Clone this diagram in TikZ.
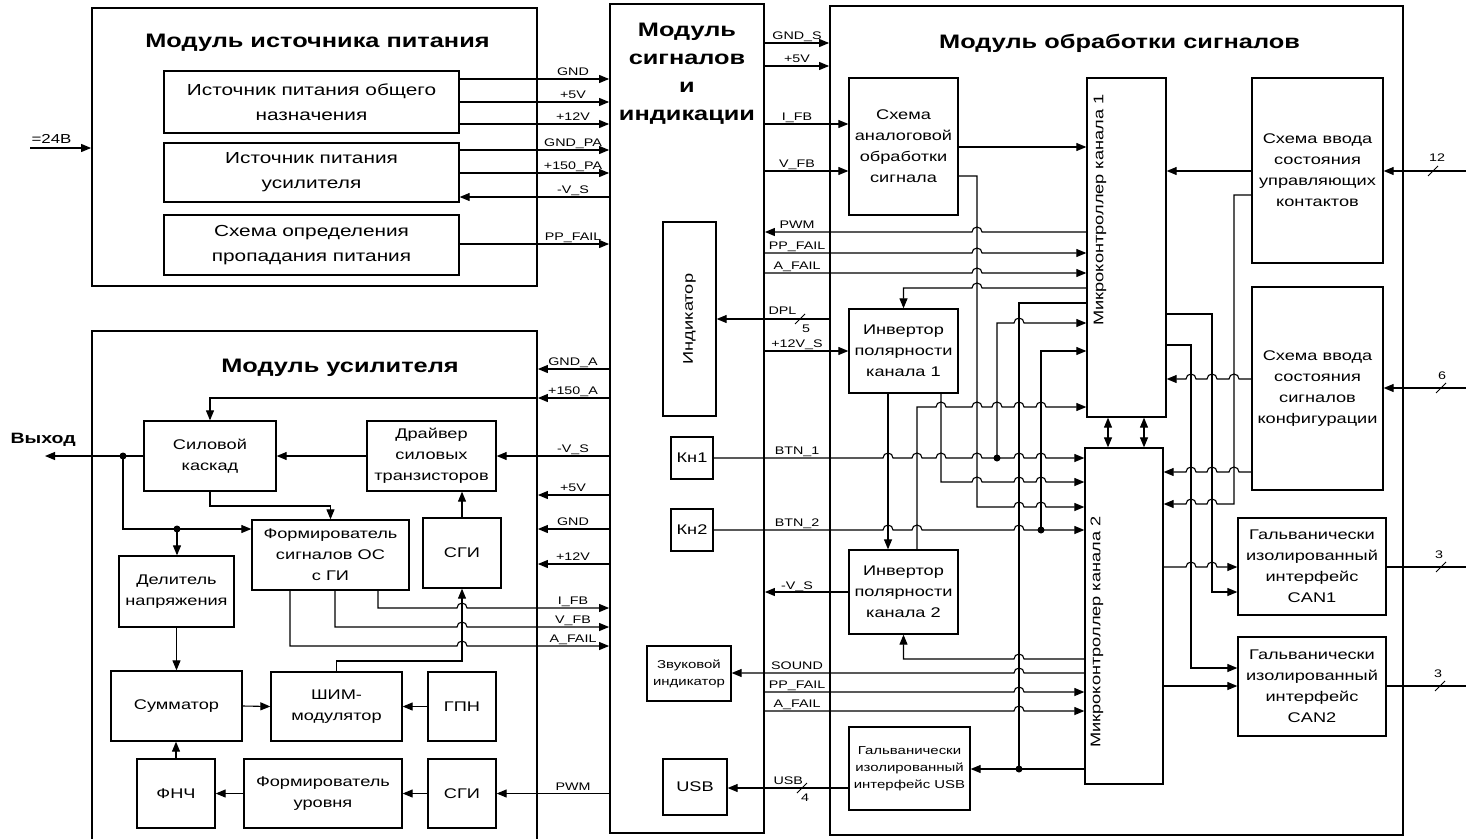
\documentclass[tikz,border=0pt]{standalone}
\usepackage{fontspec}
\setmainfont{Liberation Sans}[FakeStretch=1.3]
\usetikzlibrary{arrows.meta}
% перескок линии через вертикальный провод
\newcommand{\hopR}[2]{-- (#1-5,#2) arc[start angle=180,end angle=0,radius=5pt]}
\newcommand{\hopL}[2]{-- (#1+5,#2) arc[start angle=0,end angle=180,radius=5pt]}

\begin{document}
\begin{tikzpicture}[x=1pt,y=-1pt,>={Triangle[length=10pt,width=8pt]},line width=1.1pt,
  sz/.style 2 args={minimum width=#1pt,minimum height=#2pt}]
\tikzstyle{modbox}=[draw,line width=1.8pt,inner sep=0pt]
\tikzstyle{blk}=[draw,line width=1.3pt,align=center,inner sep=0pt,font=\fontsize{14}{21}\selectfont]
\tikzstyle{big}=[font=\fontsize{16}{25}\selectfont]
\tikzstyle{small}=[font=\fontsize{11.5}{17}\selectfont]
\tikzstyle{ttl}=[align=center,inner sep=0pt,font=\fontsize{19.5}{28}\selectfont\bfseries]
\tikzstyle{lbl}=[anchor=base,inner sep=0pt,font=\fontsize{11}{12}\selectfont]
\tikzstyle{dot}=[circle,fill,inner sep=0pt,minimum size=7pt]
\useasboundingbox (0,0) rectangle (1466,838);
\fill[white] (0,0) rectangle (1466,838);

% модуль источника питания
\node[modbox,sz={445}{278}] (pwr) at (314.5,147) {};
\node[ttl] (pwrT) at (317.5,43) {Модуль источника питания};
\node[blk,big,sz={295}{62}] (psA) at (311.5,102) {Источник питания общего\\назначения};
\node[blk,big,sz={295}{59}] (psB) at (311.5,172.5) {Источник питания\\усилителя};
\node[blk,big,sz={295}{60}] (psC) at (311.5,245) {Схема определения\\пропадания питания};

% модуль усилителя
\node[modbox,sz={445}{515}] (amp) at (314.5,588.5) {};
\node[ttl] (ampT) at (340,368) {Модуль усилителя};
\node[blk,sz={132}{70}] (sk) at (210,456) {Силовой\\каскад};
\node[blk,sz={129}{70}] (drv) at (431.5,456) {Драйвер\\силовых\\транзисторов};
\node[blk,sz={78}{70}] (sgiA) at (462,553) {СГИ};
\node[blk,sz={157}{70}] (fos) at (330.5,555) {Формирователь\\сигналов ОС\\с ГИ};
\node[blk,sz={115}{71}] (del) at (176.5,591.5) {Делитель\\напряжения};
\node[blk,sz={131}{70}] (sum) at (176.5,706) {Сумматор};
\node[blk,sz={131}{69}] (shim) at (336.5,706.5) {ШИМ-\\модулятор};
\node[blk,sz={68}{69}] (gpn) at (462,706.5) {ГПН};
\node[blk,sz={78}{69}] (fnch) at (176,793.5) {ФНЧ};
\node[blk,sz={158}{69}] (fur) at (323,793.5) {Формирователь\\уровня};
\node[blk,sz={68}{69}] (sgiB) at (462,793.5) {СГИ};

% модуль сигналов и индикации
\node[modbox,sz={154}{829}] (mid) at (687,418.5) {};
\node[ttl] (midT) at (687,74) {Модуль\\сигналов\\и\\индикации};
\node[blk,sz={53}{194}] (ind) at (689.5,319) {\rotatebox{90}{Индикатор}};
\node[blk,sz={42}{42}] (kn1) at (692,458) {Кн1};
\node[blk,sz={42}{42}] (kn2) at (692,530) {Кн2};
\node[blk,small,sz={84}{55}] (zvuk) at (689,673.5) {Звуковой\\индикатор};
\node[blk,sz={64}{56}] (usb) at (695,787) {USB};

% модуль обработки сигналов
\node[modbox,sz={573}{829}] (proc) at (1116.5,420.5) {};
\node[ttl] (procT) at (1119.5,43) {Модуль обработки сигналов};
\node[blk,sz={109}{137}] (ana) at (903.5,146.5) {Схема\\аналоговой\\обработки\\сигнала};
\node[blk,sz={109}{84}] (inv1) at (903.5,351) {Инвертор\\полярности\\канала 1};
\node[blk,sz={109}{84}] (inv2) at (903.5,592) {Инвертор\\полярности\\канала 2};
\node[blk,small,sz={121}{83}] (gusb) at (909.5,768.5) {Гальванически\\изолированный\\интерфейс USB};
\node[blk,sz={79}{339}] (mcA) at (1126.5,247.5) {};
\node[rotate=90,inner sep=0pt,font=\fontsize{14}{16}\selectfont] (mcAt) at (1100,210) {Микроконтроллер канала 1};
\node[blk,sz={78}{336}] (mcB) at (1124,616) {};
\node[rotate=90,inner sep=0pt,font=\fontsize{14}{16}\selectfont] (mcBt) at (1097,632) {Микроконтроллер канала 2};
\node[blk,sz={131}{185}] (kont) at (1317.5,170.5) {Схема ввода\\состояния\\управляющих\\контактов};
\node[blk,sz={131}{203}] (konf) at (1317.5,388.5) {Схема ввода\\состояния\\сигналов\\конфигурации};
\node[blk,sz={148}{97}] (can1) at (1312,566.5) {Гальванически\\изолированный\\интерфейс\\CAN1};
\node[blk,sz={148}{99}] (can2) at (1312,686.5) {Гальванически\\изолированный\\интерфейс\\CAN2};

% точки соединения
\node[dot] (d1) at (123,456) {};
\node[dot] (d2) at (177,529) {};
\node[dot] (d3) at (997,458) {};
\node[dot] (d4) at (1019,769) {};
\node[dot] (d5) at (1041,530) {};

% подписи шин
\foreach \y/\t in {79/GND,102/+5V,124/+12V,150/GND\_PA,173/+150\_PA,197/-V\_S,244/PP\_FAIL,
  369/GND\_A,398/+150\_A,456/-V\_S,495/+5V,529/GND,564/+12V,608/I\_FB,627/V\_FB,646/A\_FAIL,794/PWM}
  \node[lbl] (la\y) at (573,\y-4) {\t};
\foreach \y/\t in {43/GND\_S,66/+5V,124/I\_FB,171/V\_FB,232/PWM,253/PP\_FAIL,273/A\_FAIL,351/+12V\_S,
  458/BTN\_1,530/BTN\_2,593/-V\_S,673/SOUND,692/PP\_FAIL,711/A\_FAIL}
  \node[lbl] (lb\y) at (797,\y-4) {\t};
\node[lbl,anchor=base west,font=\fontsize{13}{14}\selectfont] (v24) at (31,143) {=24В};
\node[lbl,anchor=base west] (lDPL) at (768,314) {DPL};
\node[lbl,anchor=base west] (lUSB) at (773,784) {USB};
\node[lbl,anchor=base west,font=\fontsize{15}{16}\selectfont\bfseries] (vyhT) at (10,443) {Выход};

% питание
\draw[->] (30,148) -- (pwr.west |- 0,148);
\foreach \y/\n in {79/psA,102/psA,124/psA,150/psB,173/psB,244/psC}
  \draw[->] (\n.east |- 0,\y) -- (mid.west |- 0,\y);
\draw[->] (mid.west |- 0,197) -- (psB.east |- 0,197);

% усилитель
\foreach \y in {369,398,495,529,564} \draw[->] (mid.west |- 0,\y) -- (amp.east |- 0,\y);
\draw[->] (amp.east |- 0,398) -- (sk.north |- 0,398) -- (sk.north);
\draw[->] (mid.west |- drv) -- (drv.east);
\draw[->] (drv.west) -- (sk.east);
\draw[->] (sgiA.north) -- (sgiA.north |- drv.south);
\draw[->] (sk.south) -- (sk.south |- 0,506) -- (fos.north |- 0,506) -- (fos.north);
\draw[->] (sk.west) -- (45,456) coordinate (vyh);
\draw[->] (d1.center) -- (d1.center |- 0,529) -- (fos.west |- 0,529);
\draw[->] (d2.center) -- (d2.center |- del.north);
\draw[->] (del.south) -- (sum.north);
\draw[->] (sum.east) -- (shim.west);
\draw[->] (gpn.west) -- (shim.east);
\draw[->] (fnch.north) -- (fnch.north |- sum.south);
\draw[->] (fur.west) -- (fnch.east);
\draw[->] (sgiB.west) -- (fur.east);
\draw[->] (mid.west |- sgiB) -- (sgiB.east);
\draw[->] (shim.north) -- (shim.north |- 0,661) -- (sgiA.south |- 0,661) -- (sgiA.south);
\draw[->] (fos.south -| 378,0) -- (378,608) \hopR{462}{608} -- (mid.west |- 0,608);
\draw[->] (fos.south -| 335,0) -- (335,627) \hopR{462}{627} -- (mid.west |- 0,627);
\draw[->] (fos.south -| 290,0) -- (290,646) \hopR{462}{646} -- (mid.west |- 0,646);

% модуль сигналов -> обработка
\draw[->] (mid.east |- 0,43) -- (proc.west |- 0,43);
\draw[->] (mid.east |- 0,66) -- (proc.west |- 0,66);
\draw[->] (mid.east |- 0,124) -- (ana.west |- 0,124);
\draw[->] (mid.east |- 0,171) -- (ana.west |- 0,171);
\draw[->] (ana.east |- 0,147) -- (mcA.west |- 0,147);
\draw[->] (ana.east |- 0,176) -- (977,176) -- (977,507) \hopR{1019}{507} \hopR{1041}{507} -- (mcB.west |- 0,507);
\draw[->] (mcA.west |- 0,232) \hopL{977}{232} -- (mid.east |- 0,232);
\draw[->] (mid.east |- 0,253) \hopR{977}{253} -- (mcA.west |- 0,253);
\draw[->] (mid.east |- 0,273) \hopR{977}{273} -- (mcA.west |- 0,273);
\draw[->] (mcA.west |- 0,288) \hopL{977}{288} -- (inv1.north |- 0,288) -- (inv1.north);
\draw (mcA.west |- 0,303) -- (1019,303) -- (d4.center);
\draw[->] (mcB.west |- 0,769) -- (gusb.east |- 0,769);
\draw[->] (d3.center) -- (997,323) \hopR{1019}{323} -- (mcA.west |- 0,323);
\draw[->] (d5.center) -- (1041,351) -- (mcA.west |- 0,351);
\draw[->] (inv2.north -| 917,0) -- (917,407) \hopR{941}{407} \hopR{977}{407} \hopR{997}{407}
  \hopR{1019}{407} \hopR{1041}{407} -- (mcA.west |- 0,407);
\draw[->] (inv1.south -| 888,0) -- (inv2.north -| 888,0);
\draw[->] (inv1.south -| 941,0) -- (941,482) \hopR{977}{482} \hopR{1019}{482} \hopR{1041}{482} -- (mcB.west |- 0,482);
\draw[->] (kn1.east) \hopR{888}{458} \hopR{917}{458} \hopR{941}{458} \hopR{977}{458} -- (d3.center)
  \hopR{1019}{458} \hopR{1041}{458} -- (mcB.west |- 0,458);
\draw[->] (kn2.east) \hopR{888}{530} \hopR{917}{530} \hopR{1019}{530} -- (mcB.west |- 0,530);
\draw[->] (inv2.west) -- (mid.east |- inv2.west);
\draw[->] (mcB.west |- 0,659) \hopL{1019}{659} -- (inv2.south |- 0,659) -- (inv2.south);
\draw[->] (mcB.west |- 0,673) \hopL{1019}{673} -- (zvuk.east |- 0,673);
\draw[->] (mid.east |- 0,692) \hopR{1019}{692} -- (mcB.west |- 0,692);
\draw[->] (mid.east |- 0,711) \hopR{1019}{711} -- (mcB.west |- 0,711);
\draw[->] (gusb.west |- 0,788) -- (usb.east |- 0,788);
\draw[->] (proc.west |- 0,319) -- (ind.east |- 0,319);
\draw[->] (mid.east |- inv1.west) -- (inv1.west);

% входы и интерфейсы
\draw[->] (kont.west |- 0,171) -- (mcA.east |- 0,171);
\draw[->] (1466,171) -- (kont.east |- 0,171);
\draw[->] (kont.west |- 0,195) -- (1234,195) -- (1234,504) \hopL{1212}{504} \hopL{1191}{504} -- (mcB.east |- 0,504);
\draw[->] (konf.west |- 0,379) \hopL{1234}{379} \hopL{1212}{379} \hopL{1191}{379} -- (mcA.east |- 0,379);
\draw[->] (konf.west |- 0,472) \hopL{1234}{472} \hopL{1212}{472} \hopL{1191}{472} -- (mcB.east |- 0,472);
\draw[->] (1466,388) -- (konf.east |- 0,388);
\draw[->] (mcA.east |- 0,314) -- (1212,314) -- (1212,592) -- (can1.west |- 0,592);
\draw[->] (mcA.east |- 0,345) -- (1191,345) -- (1191,668) -- (can2.west |- 0,668);
\draw[->] (mcB.east |- 0,567) \hopR{1191}{567} \hopR{1212}{567} -- (can1.west |- 0,567);
\draw[->] (mcB.east |- 0,686) -- (can2.west |- 0,686);
\draw (can1.east |- 0,567) -- (1466,567);
\draw (can2.east |- 0,686) -- (1466,686);
\draw[<->] (mcA.south -| 1108,0) -- (mcB.north -| 1108,0);
\draw[<->] (mcA.south -| 1144,0) -- (mcB.north -| 1144,0);

% отметки разрядности шин
\draw[line width=0.9pt] (1428,176) -- (1438,166); \node[lbl] (n12) at (1437,161) {12};
\draw[line width=0.9pt] (1436,393) -- (1446,383); \node[lbl] (n6) at (1442,379) {6};
\draw[line width=0.9pt] (1436,572) -- (1446,562); \node[lbl] (n3a) at (1439,558) {3};
\draw[line width=0.9pt] (1435,691) -- (1445,681); \node[lbl] (n3b) at (1438,677) {3};
\draw[line width=0.9pt] (795,324) -- (805,314); \node[lbl] (n5) at (806,332) {5};
\draw[line width=0.9pt] (797,793) -- (807,783); \node[lbl] (n4) at (805,801) {4};
\end{tikzpicture}
\end{document}
